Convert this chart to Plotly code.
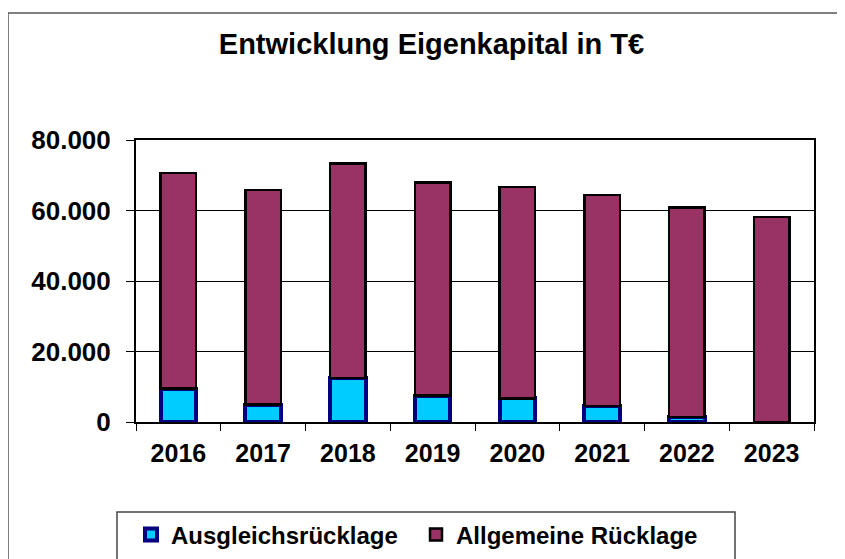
import plotly.graph_objects as go

years = ["2016", "2017", "2018", "2019", "2020", "2021", "2022", "2023"]
ausgleich = [9500, 4900, 12500, 7500, 6700, 4600, 1400, 0]
allgemeine = [61200, 60900, 60900, 60500, 60000, 59800, 59400, 58200]
y_tickvals = [0, 20000, 40000, 60000, 80000]
y_ticktext = ["0", "20.000", "40.000", "60.000", "80.000"]

# page body has an 8px margin, so work in page pixels and subtract it
OFF = 8
W, H = 845 - OFF, 559 - OFF
L, T = 136 - OFF, 140 - OFF
pw, ph = 678, 282
R = W - L - pw
B = H - T - ph

def px_x(p):
    return (p - OFF - L) / pw

def px_y(p):
    return (T + ph - (p - OFF)) / ph

font = "Arial, Liberation Sans, sans-serif"

fig = go.Figure()
fig.add_trace(go.Bar(
    x=years, y=ausgleich, name="Ausgleichsrücklage",
    marker=dict(color="#00CCFF", line=dict(color="#000080", width=4)),
    width=0.42,
))
fig.add_trace(go.Bar(
    x=years, y=allgemeine, name="Allgemeine Rücklage",
    marker=dict(color="#993366", line=dict(color="#000000", width=2.5)),
    width=0.42,
))

fig.update_layout(
    barmode="stack",
    width=W, height=H,
    margin=dict(l=L, r=R, t=T, b=B, autoexpand=False),
    paper_bgcolor="white", plot_bgcolor="white",
    font=dict(family=font, color="black"),
    title=dict(
        text="<b>Entwicklung Eigenkapital in T€</b>",
        font=dict(family=font, size=29, color="black"),
        x=(431.5 - OFF) / W, xanchor="center", xref="container",
        y=1 - (44 - OFF) / H, yanchor="middle", yref="container",
    ),
    showlegend=True,
    legend=dict(
        orientation="h",
        x=px_x(416), xanchor="center",
        y=px_y(535), yanchor="middle",
        font=dict(family=font, size=24, color="black", weight="bold"),
        bgcolor="rgba(0,0,0,0)", borderwidth=0,
        traceorder="normal",
        entrywidth=240,
    ),
    xaxis=dict(
        type="category",
        showline=True, linecolor="black", linewidth=2, mirror=True,
        ticks="outside", tickson="boundaries", ticklen=7, tickcolor="black", tickwidth=1,
        tickfont=dict(family=font, size=25, color="black", weight="bold"),
        ticklabelstandoff=8,
        showgrid=False,
    ),
    yaxis=dict(
        range=[0, 80000],
        tickvals=y_tickvals, ticktext=y_ticktext,
        showline=True, linecolor="black", linewidth=2, mirror=True,
        ticks="outside", ticklen=8, tickcolor="black", tickwidth=1,
        tickfont=dict(family=font, size=26, color="black", weight="bold"),
        ticklabelstandoff=10,
        showgrid=True, gridcolor="black", gridwidth=1,
        zeroline=False,
    ),
    shapes=[
        dict(type="rect", xref="paper", yref="paper",
             x0=px_x(8), x1=px_x(870), y0=px_y(590), y1=px_y(13),
             line=dict(color="#555555", width=1.5), fillcolor="rgba(0,0,0,0)", layer="below"),
        dict(type="rect", xref="paper", yref="paper",
             x0=px_x(117), x1=px_x(735), y0=px_y(590), y1=px_y(512),
             line=dict(color="#444444", width=1.5), fillcolor="rgba(0,0,0,0)"),
    ],
)

fig.write_html("out.html")
